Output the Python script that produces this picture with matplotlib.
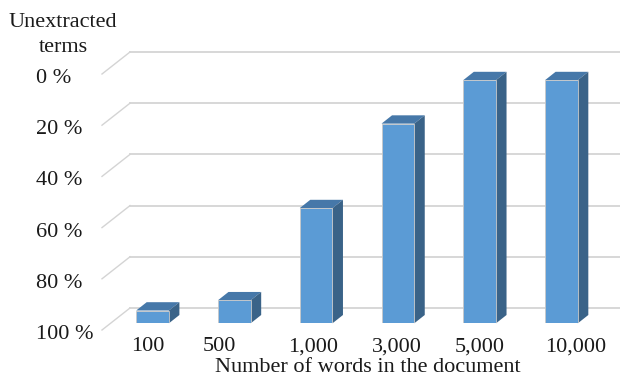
import matplotlib
matplotlib.use("Agg")
import matplotlib.pyplot as plt
import matplotlib.transforms as mtransforms
from matplotlib.lines import Line2D
from matplotlib.patches import Polygon

# data
categories = ["100", "500", "1,000", "3,000", "5,000", "10,000"]
unextracted = [95, 91, 55, 22, 5, 5]      # % of terms not extracted
y_ticks = [0, 20, 40, 60, 80, 100]
y_title = "Unextracted\nterms"
x_title = "Number of words in the document"

# layout (pixels)
W, H = 620, 377
label_nudge = [-5, -14.5, -2.5, -1, 0.5, 14]
depth = (10.5, 8.3)                        # bar depth offset
back_off = (18.35, 15.3)                   # back wall offset from bar fronts
front_off = (-9.65, -6.7)                  # front edge offset from bar fronts

c_front = "#5B9BD5"
c_top = "#4678A9"
c_side = "#3A6388"
c_grid = "#D4D4D4"

plt.rcParams["font.family"] = ["Liberation Serif", "DejaVu Serif"]
plt.rcParams["font.size"] = 16

fig = plt.figure(figsize=(W / 100, H / 100), dpi=100)
ax = fig.add_axes([111.65 / W, 53.7 / H, 490.7 / W, 256 / H])
ax.set_xlim(-0.5, len(categories) - 0.5)
ax.set_ylim(100, 0)
ax.axis("off")

ident = mtransforms.IdentityTransform()
back = ax.transData + mtransforms.Affine2D().translate(*back_off)
front = ax.transData + mtransforms.Affine2D().translate(*front_off)

# back wall gridlines + left wall diagonals
for v in y_ticks:
    ax.plot([-0.5, len(categories) - 0.5], [v, v], transform=back,
            color=c_grid, lw=1.3, clip_on=False, zorder=1)
    p0 = front.transform((-0.5, v))
    p1 = back.transform((-0.5, v))
    ax.add_line(Line2D([p0[0], p1[0]], [p0[1], p1[1]], transform=ident,
                       color=c_grid, lw=1.0, clip_on=False, zorder=1))

# bars
w = 0.4
x = list(range(len(categories)))
ax.bar(x, [u - 100 for u in unextracted], bottom=100, width=w,
       color=c_front, edgecolor="#C8C8C8", lw=0.6, zorder=3)
dx, dy = depth
for i, u in zip(x, unextracted):
    tl = ax.transData.transform((i - w / 2, u))
    tr = ax.transData.transform((i + w / 2, u))
    br = ax.transData.transform((i + w / 2, 100))
    top = [tl, tr, (tr[0] + dx, tr[1] + dy), (tl[0] + dx, tl[1] + dy)]
    side = [tr, br, (br[0] + dx, br[1] + dy), (tr[0] + dx, tr[1] + dy)]
    ax.add_patch(Polygon(top, closed=True, transform=ident, facecolor=c_top,
                         edgecolor="none", zorder=2, clip_on=False))
    ax.add_patch(Polygon(side, closed=True, transform=ident, facecolor=c_side,
                         edgecolor="none", zorder=2, clip_on=False))

# y tick labels (left aligned)
ytrans = mtransforms.blended_transform_factory(
    fig.transFigure, ax.transData + mtransforms.Affine2D().translate(0, -15.7))
for v in y_ticks:
    ax.text(36 / W, v, f"{v} %", transform=ytrans, ha="left", va="baseline",
            color="#1a1a1a")

# category labels
for i, (cat, nd) in enumerate(zip(categories, label_nudge)):
    t = ax.transData + mtransforms.Affine2D().translate(nd, -28)
    ax.text(i, 100, cat, transform=t, ha="center", va="baseline", color="#1a1a1a")

# titles
for k, line in enumerate(y_title.split("\n")):
    fig.text(63 / W, 1 - (27 + 25 * k) / H, line, ha="center", va="baseline",
             color="#1a1a1a")
fig.text(368 / W, 5 / H, x_title, ha="center", va="baseline", color="#1a1a1a")

fig.savefig("out.png", dpi=100)
